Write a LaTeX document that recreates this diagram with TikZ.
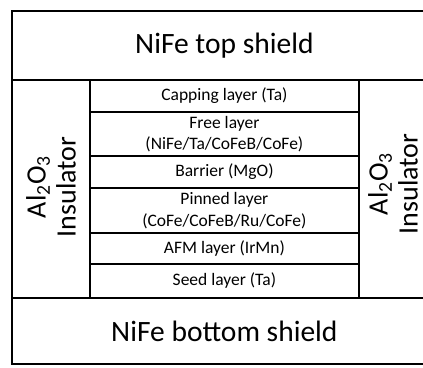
\documentclass[tikz,border=0pt]{standalone}
\usepackage{fontspec}
\setmainfont{Carlito}
\begin{document}
\begin{tikzpicture}[x=1pt,y=-1pt,
  blk/.style={draw=black,line width=1.8pt,inner sep=0pt,anchor=north west,align=center},
  big/.style={font=\fontsize{29.5}{34}\selectfont},
  lay/.style={font=\fontsize{17.5}{21.5}\selectfont},
  ins/.style={font=\fontsize{28}{30}\selectfont,rotate=90,align=center,inner sep=0pt}]
\useasboundingbox (0,0) rectangle (423,367);
\clip (0,0) rectangle (423,367);
\fill[white] (0,0) rectangle (423,367);
% shields
\node[blk,big,minimum width=425pt,minimum height=69pt] (top) at (11,10) {NiFe top shield};
\node[blk,big,minimum width=425pt,minimum height=66pt] (bot) at (11,297) {NiFe bottom shield};
% insulator columns
\node[blk,minimum width=78pt,minimum height=218pt] (lcol) at (11,79) {};
\node[blk,minimum width=78pt,minimum height=218pt] (rcol) at (358,79) {};
\node[ins] (lins) at (51,187) {Al\textsubscript{2}O\textsubscript{3}\\Insulator};
\node[ins] (rins) at (393,184) {Al\textsubscript{2}O\textsubscript{3}\\Insulator};
% layers
\node[blk,lay,minimum width=269pt,minimum height=32pt] (cap) at (89,79) {Capping layer (Ta)};
\node[blk,lay,minimum width=269pt,minimum height=44pt] (free) at (89,111) {Free layer\\(NiFe/Ta/CoFeB/CoFe)};
\node[blk,lay,minimum width=269pt,minimum height=32pt] (bar) at (89,155) {Barrier (MgO)};
\node[blk,lay,minimum width=269pt,minimum height=45pt] (pin) at (89,187) {Pinned layer\\(CoFe/CoFeB/Ru/CoFe)};
\node[blk,lay,minimum width=269pt,minimum height=31pt] (afm) at (89,232) {AFM layer (IrMn)};
\node[blk,lay,minimum width=269pt,minimum height=34pt] (seed) at (89,263) {Seed layer (Ta)};
\end{tikzpicture}
\end{document}
